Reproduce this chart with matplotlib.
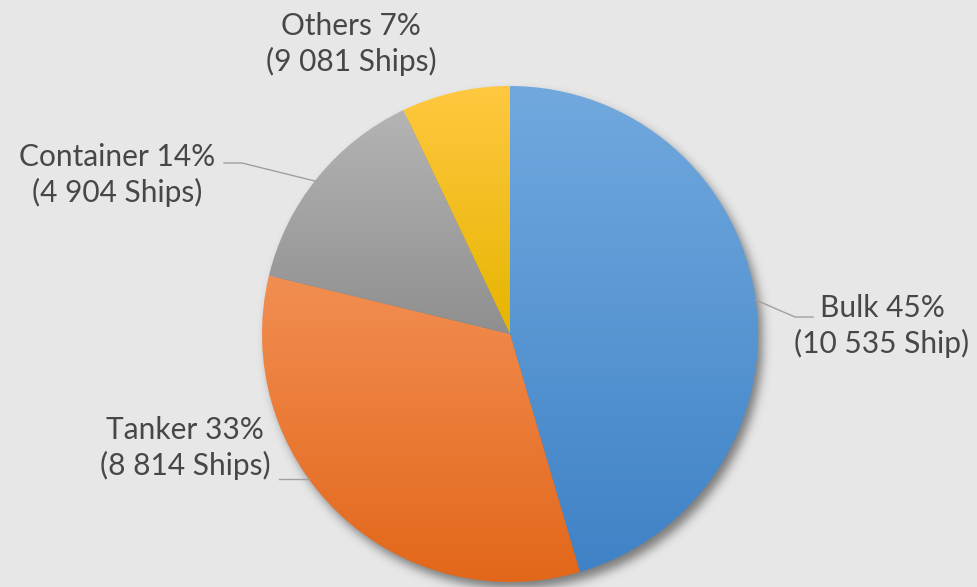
import numpy as np
import matplotlib
matplotlib.use("Agg")
import matplotlib.pyplot as plt
from matplotlib.colors import to_rgb

# Fleet composition
categories = ["Bulk", "Tanker", "Container", "Others"]
shares = [45, 33, 14, 7]
ship_counts = ["10 535", "8 814", "4 904", "9 081"]
ship_units = ["Ship", "Ships", "Ships", "Ships"]

# Vertical gradient per slice (top -> bottom)
top_colors = ["#71a9de", "#f28e52", "#b4b4b4", "#ffc840"]
bottom_colors = ["#3f82c6", "#e2671a", "#8f8f8f", "#e5b500"]

W, H = 977, 587
BG = "#e7e7e7"
TEXT = "#474747"
LEADER = "#a0a0a0"

fig = plt.figure(figsize=(W / 100, H / 100), dpi=100)
fig.patch.set_facecolor(BG)
ax = fig.add_axes([0, 0, 1, 1])
ax.set_facecolor(BG)

cx, cy, R = 510, H - 334, 248

wedges, _ = ax.pie(shares, center=(cx, cy), radius=R, startangle=90,
                   counterclock=False, frame=True,
                   wedgeprops=dict(linewidth=0))

# soft drop shadow under the pie
pad = 50
xs = np.arange(cx - R - pad, cx + R + pad + 1)
ys = np.arange(cy - R - pad, cy + R + pad + 1)
X, Y = np.meshgrid(xs, ys)
disk = (((X - (cx + 5)) ** 2 + (Y - (cy - 7)) ** 2) <= R ** 2).astype(float)
sigma = 5.0
k = np.arange(-15, 16)
kern = np.exp(-k ** 2 / (2 * sigma ** 2))
kern /= kern.sum()
blur = np.apply_along_axis(lambda r: np.convolve(r, kern, mode="same"), 1, disk)
blur = np.apply_along_axis(lambda c: np.convolve(c, kern, mode="same"), 0, blur)
shadow = np.zeros(blur.shape + (4,))
shadow[..., :3] = 0.30
shadow[..., 3] = 0.70 * blur
ax.imshow(shadow, extent=(xs[0], xs[-1], ys[0], ys[-1]), origin="lower",
          zorder=0.5, interpolation="bilinear")

# gradient fill clipped to each wedge
for w, c0, c1 in zip(wedges, top_colors, bottom_colors):
    bb = w.get_path().get_extents()
    t = np.linspace(0, 1, 256)[:, None]
    grad = (1 - t) * np.array(to_rgb(c0)) + t * np.array(to_rgb(c1))
    grad = grad[:, None, :]
    im = ax.imshow(grad, extent=(bb.x0, bb.x1, bb.y0, bb.y1), origin="upper",
                   aspect="auto", zorder=2, interpolation="bilinear")
    im.set_clip_path(w)
    w.set_facecolor("none")
    w.set_edgecolor("none")

# data labels (x centre, y centre of the two-line block, from top)
label_pos = {
    "Bulk": (882, 326),
    "Tanker": (185, 448),
    "Container": (117, 175),
    "Others": (351, 44),
}
for cat, s, n, u in zip(categories, shares, ship_counts, ship_units):
    x, y = label_pos[cat]
    ax.text(x, H - y, f"{cat} {s}%\n({n} {u})", ha="center", va="center",
            fontsize=21.5, color=TEXT, family=["Lato", "DejaVu Sans"],
            linespacing=1.3, zorder=5)


def edge_x(y_top, side):
    """x of the pie rim at a given row (measured from the top)."""
    dy = (H - y_top) - cy
    return cx + side * np.sqrt(R ** 2 - dy ** 2)


# leader lines
leaders = [
    [(edge_x(300, 1), 300), (795, 317), (813, 317)],
    [(279, 479), (edge_x(479, -1), 479)],
    [(224, 163), (242, 163), (edge_x(181, -1), 181)],
]
for pts in leaders:
    px = [p[0] for p in pts]
    py = [H - p[1] for p in pts]
    ax.plot(px, py, color=LEADER, lw=1, zorder=4)

ax.set_xlim(0, W)
ax.set_ylim(0, H)
ax.set_aspect("equal")
ax.axis("off")

fig.savefig("out.png", dpi=100, facecolor=BG)
